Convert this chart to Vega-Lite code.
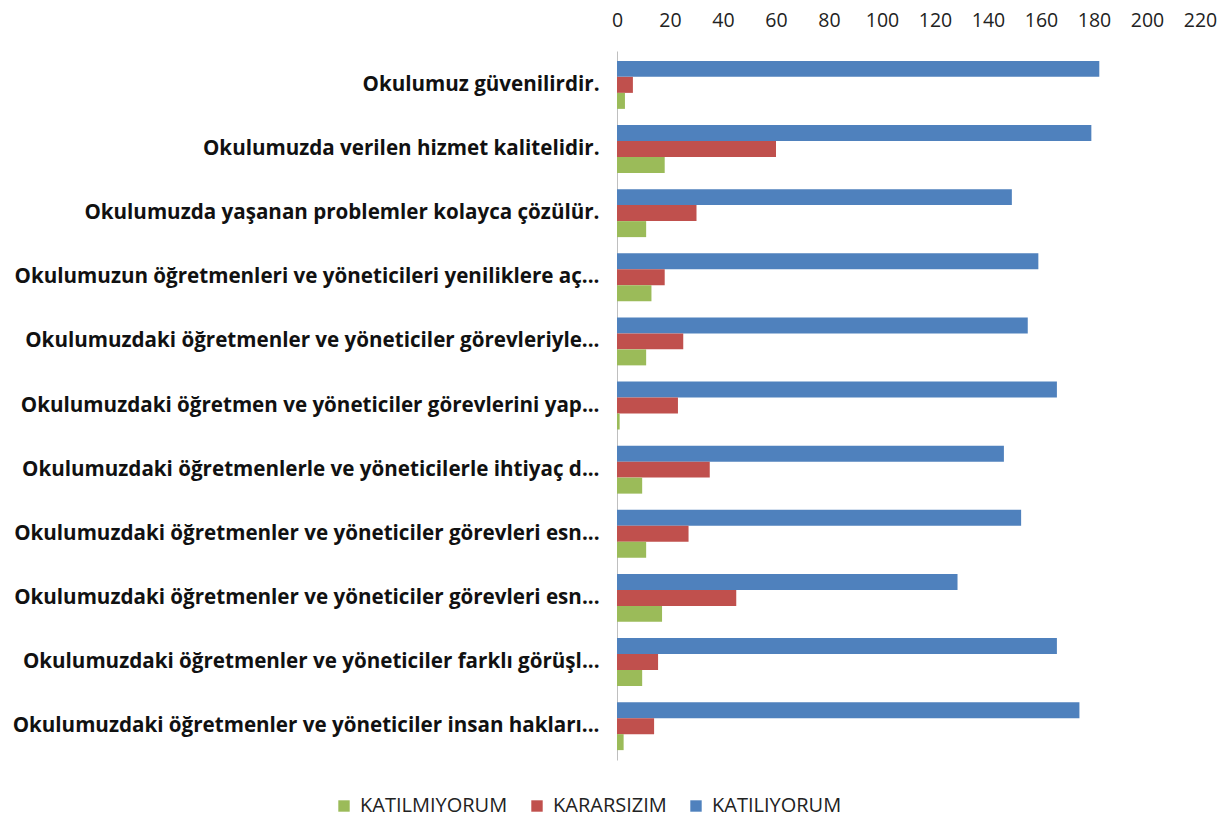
{
  "$schema": "https://vega.github.io/schema/vega-lite/v6.json",
  "autosize": {"type": "none"},
  "padding": {"left": 617, "top": 51, "right": 21, "bottom": 67},
  "width": 583,
  "height": 709,
  "background": "white",
  "config": {"view": {"stroke": null}, "font": "Open Sans"},
  "data": {
    "values": [
      {"q": "Okulumuz güvenilirdir.|1", "s": "KATILIYORUM", "v": 182},
      {"q": "Okulumuz güvenilirdir.|1", "s": "KARARSIZIM", "v": 6},
      {"q": "Okulumuz güvenilirdir.|1", "s": "KATILMIYORUM", "v": 3},
      {"q": "Okulumuzda verilen hizmet kalitelidir.|2", "s": "KATILIYORUM", "v": 179},
      {"q": "Okulumuzda verilen hizmet kalitelidir.|2", "s": "KARARSIZIM", "v": 60},
      {"q": "Okulumuzda verilen hizmet kalitelidir.|2", "s": "KATILMIYORUM", "v": 18},
      {"q": "Okulumuzda yaşanan problemler kolayca çözülür.|3", "s": "KATILIYORUM", "v": 149},
      {"q": "Okulumuzda yaşanan problemler kolayca çözülür.|3", "s": "KARARSIZIM", "v": 30},
      {"q": "Okulumuzda yaşanan problemler kolayca çözülür.|3", "s": "KATILMIYORUM", "v": 11},
      {"q": "Okulumuzun öğretmenleri ve yöneticileri yeniliklere aç...|4", "s": "KATILIYORUM", "v": 159},
      {"q": "Okulumuzun öğretmenleri ve yöneticileri yeniliklere aç...|4", "s": "KARARSIZIM", "v": 18},
      {"q": "Okulumuzun öğretmenleri ve yöneticileri yeniliklere aç...|4", "s": "KATILMIYORUM", "v": 13},
      {"q": "Okulumuzdaki öğretmenler ve yöneticiler görevleriyle...|5", "s": "KATILIYORUM", "v": 155},
      {"q": "Okulumuzdaki öğretmenler ve yöneticiler görevleriyle...|5", "s": "KARARSIZIM", "v": 25},
      {"q": "Okulumuzdaki öğretmenler ve yöneticiler görevleriyle...|5", "s": "KATILMIYORUM", "v": 11},
      {"q": "Okulumuzdaki öğretmen ve yöneticiler görevlerini yap...|6", "s": "KATILIYORUM", "v": 166},
      {"q": "Okulumuzdaki öğretmen ve yöneticiler görevlerini yap...|6", "s": "KARARSIZIM", "v": 23},
      {"q": "Okulumuzdaki öğretmen ve yöneticiler görevlerini yap...|6", "s": "KATILMIYORUM", "v": 1},
      {"q": "Okulumuzdaki öğretmenlerle ve yöneticilerle ihtiyaç d...|7", "s": "KATILIYORUM", "v": 146},
      {"q": "Okulumuzdaki öğretmenlerle ve yöneticilerle ihtiyaç d...|7", "s": "KARARSIZIM", "v": 35},
      {"q": "Okulumuzdaki öğretmenlerle ve yöneticilerle ihtiyaç d...|7", "s": "KATILMIYORUM", "v": 9.5},
      {"q": "Okulumuzdaki öğretmenler ve yöneticiler görevleri esn...|8", "s": "KATILIYORUM", "v": 152.5},
      {"q": "Okulumuzdaki öğretmenler ve yöneticiler görevleri esn...|8", "s": "KARARSIZIM", "v": 27},
      {"q": "Okulumuzdaki öğretmenler ve yöneticiler görevleri esn...|8", "s": "KATILMIYORUM", "v": 11},
      {"q": "Okulumuzdaki öğretmenler ve yöneticiler görevleri esn...|9", "s": "KATILIYORUM", "v": 128.5},
      {"q": "Okulumuzdaki öğretmenler ve yöneticiler görevleri esn...|9", "s": "KARARSIZIM", "v": 45},
      {"q": "Okulumuzdaki öğretmenler ve yöneticiler görevleri esn...|9", "s": "KATILMIYORUM", "v": 17},
      {"q": "Okulumuzdaki öğretmenler ve yöneticiler farklı görüşl...|10", "s": "KATILIYORUM", "v": 166},
      {"q": "Okulumuzdaki öğretmenler ve yöneticiler farklı görüşl...|10", "s": "KARARSIZIM", "v": 15.5},
      {"q": "Okulumuzdaki öğretmenler ve yöneticiler farklı görüşl...|10", "s": "KATILMIYORUM", "v": 9.5},
      {"q": "Okulumuzdaki öğretmenler ve yöneticiler insan hakları...|11", "s": "KATILIYORUM", "v": 174.5},
      {"q": "Okulumuzdaki öğretmenler ve yöneticiler insan hakları...|11", "s": "KARARSIZIM", "v": 14},
      {"q": "Okulumuzdaki öğretmenler ve yöneticiler insan hakları...|11", "s": "KATILMIYORUM", "v": 2.5}
    ]
  },
  "mark": {"type": "bar"},
  "encoding": {
    "y": {
      "field": "q",
      "type": "nominal",
      "sort": null,
      "title": null,
      "scale": {"paddingInner": 0.2515, "paddingOuter": 0.154},
      "axis": {
        "labelExpr": "split(datum.value, '|')[0]",
        "labelFont": "Open Sans",
        "labelFontWeight": "bold",
        "labelFontSize": 20.6,
        "labelColor": "#111111",
        "labelLimit": 800,
        "labelPadding": 18,
        "ticks": false,
        "domainColor": "#bfbfbf",
        "domainWidth": 1,
        "grid": false
      }
    },
    "yOffset": {
      "field": "s",
      "type": "nominal",
      "sort": ["KATILIYORUM", "KARARSIZIM", "KATILMIYORUM"],
      "scale": {"paddingInner": 0, "paddingOuter": 0}
    },
    "x": {
      "field": "v",
      "type": "quantitative",
      "title": null,
      "scale": {"domain": [0, 220], "nice": false},
      "axis": {
        "orient": "top",
        "values": [0, 20, 40, 60, 80, 100, 120, 140, 160, 180, 200, 220],
        "domain": false,
        "ticks": false,
        "grid": false,
        "labelFont": "Open Sans",
        "labelFontSize": 19.5,
        "labelColor": "#222222",
        "labelPadding": 21,
        "labelFlush": false
      }
    },
    "color": {
      "field": "s",
      "type": "nominal",
      "scale": {
        "domain": ["KATILMIYORUM", "KARARSIZIM", "KATILIYORUM"],
        "range": ["#9BBB59", "#C0504D", "#4F81BD"]
      },
      "legend": {
        "title": null,
        "orient": "none",
        "direction": "horizontal",
        "legendX": -283,
        "legendY": 745,
        "symbolType": "square",
        "symbolSize": 130,
        "symbolStrokeWidth": 0,
        "labelFont": "Open Sans",
        "labelFontSize": 20,
        "labelColor": "#222222",
        "columnPadding": 19,
        "labelOffset": 6
      }
    }
  }
}
